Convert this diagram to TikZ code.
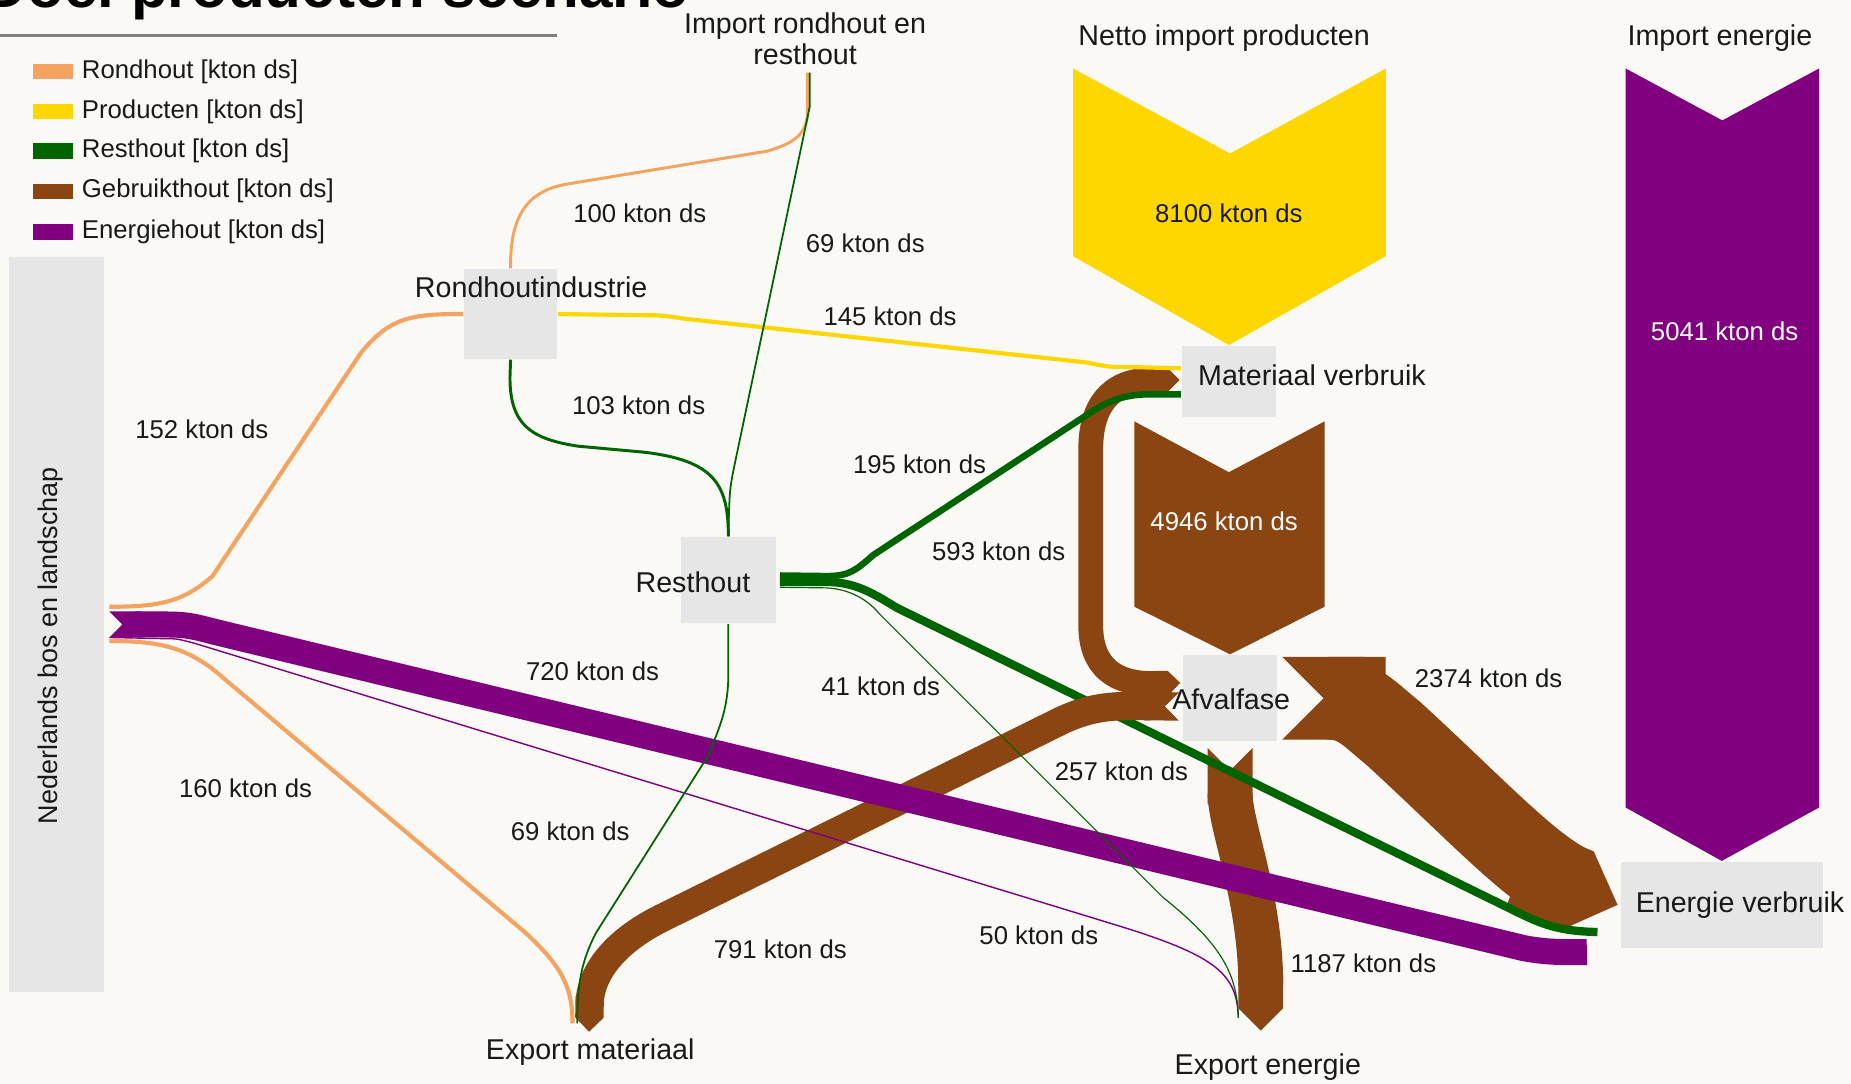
\documentclass[tikz,border=0pt]{standalone}
\usepackage{fontspec}
\setmainfont{Liberation Sans}
\usetikzlibrary{positioning,calc,arrows.meta}
\definecolor{bgc}{RGB}{250,249,245}
\definecolor{boxc}{RGB}{230,230,230}
\definecolor{rondc}{RGB}{244,164,96}
\definecolor{prodc}{RGB}{255,215,0}
\definecolor{restc}{RGB}{0,100,0}
\definecolor{gebrc}{RGB}{139,69,19}
\definecolor{energc}{RGB}{128,0,128}
\definecolor{rulec}{RGB}{128,128,128}

\begin{document}
\begin{tikzpicture}[x=0.01cm,y=-0.01cm,
		box/.style={fill=boxc,inner sep=0pt},
		nodetxt/.style={font=\fontsize{6.9}{7.4}\selectfont,inner sep=0pt,align=center,text=black!90},
		val/.style={font=\fontsize{6.2}{7}\selectfont,inner sep=0pt,text=black!90},
		swatch/.style={minimum width=3.4mm,minimum height=1.3mm,inner sep=0pt},
		rond/.style={draw=rondc},
		prod/.style={draw=prodc},
		resth/.style={draw=restc},
		gebr/.style={draw=gebrc},
		energ/.style={draw=energc}]
		\fill[bgc] (0,0) rectangle (1568,918);
		\useasboundingbox (0,0) rectangle (1568,918);
		
		\node[font=\fontsize{14.5}{16}\selectfont\bfseries,anchor=base east,inner sep=0pt] (title) at (585,6) {Doel producten scenario};
		\draw[rulec,line width=0.3mm] (0,30) -- (472,30);
		
		\node[swatch,fill=rondc] (lr) at (45,60.5) {};
		\node[val,right=0.6mm of lr] (lrt) {Rondhout [kton ds]};
		\node[swatch,fill=prodc] (lp) at (45,94.5) {};
		\node[val,right=0.6mm of lp] (lpt) {Producten [kton ds]};
		\node[swatch,fill=restc] (lrs) at (45,128) {};
		\node[val,right=0.6mm of lrs] (lrst) {Resthout [kton ds]};
		\node[swatch,fill=gebrc] (lg) at (45,162) {};
		\node[val,right=0.6mm of lg] (lgt) {Gebruikthout [kton ds]};
		\node[swatch,fill=energc] (le) at (45,196.5) {};
		\node[val,right=0.6mm of le] (let) {Energiehout [kton ds]};
		
		\node[box,minimum width=8mm,minimum height=62.2mm] (nbl) at (48,529) {};
		\node[box,minimum width=7.9mm,minimum height=7.6mm] (rhi) at (432.5,266) {};
		\node[box,minimum width=8mm,minimum height=7.3mm] (rest) at (617,491.5) {};
		\node[box,minimum width=8mm,minimum height=6mm] (mat) at (1041,323) {};
		\node[box,minimum width=7.9mm,minimum height=7.3mm] (afv) at (1042,591.5) {};
		\node[box,minimum width=17.1mm,minimum height=7.3mm] (ev) at (1458.5,766.5) {};
		\node[nodetxt] (expm) at (500,891) {Export materiaal};
		\node[nodetxt] (expe) at (1074,904) {Export energie};
		\node[nodetxt] (imp) at (682,33) {Import rondhout en\\resthout};
		\node[nodetxt] (nip) at (1037,32) {Netto import producten};
		\node[nodetxt] (ie) at (1457,32) {Import energie};
		
		% import arrows
		\fill[prodc] (909,58) -- (1042,130) -- (1174,58) -- (1174,217) -- (mat.north) -- (909,217) -- cycle;
		\fill[energc] (1377,58) -- (1459,102) -- (1541,58) -- (1541,684) -- (ev.north) -- (1377,684) -- cycle;
		\fill[gebrc] (961,357) -- (1041,400) -- (1122,357) -- (1122,514) -- (afv.north) -- (961,514) -- cycle;
		
		% gebruikthout (under)
		\draw[gebr,line width=3.8mm,{Triangle Cap[reversed]}-{Triangle Cap}] ($(afv.south)+(0,5)$) .. controls (1042,700) and (1068,760) .. ($(expe.center)+(-6,-31)$);
		\draw[gebr,line width=7mm,{Triangle Cap[reversed]}-{Triangle Cap}] ($(afv.east)+(4,0)$) -- (1125,591.5) .. controls (1150,591.5) and (1160,605) .. (1180,621) .. controls (1250,685) and (1300,740) .. (1335,753) -- ($(ev.west)+(-2,0)$);
		\draw[gebr,line width=2.1mm,{Triangle Cap}-{Triangle Cap}] ($(mat.west)+(-1,-1)$) -- (975,322) .. controls (940,322) and (924,345) .. (924,380) -- (924,530) .. controls (924,565) and (945,579) .. (975,579) -- ($(afv.west)+(-2,-13)$);
		
		% resthout
		\draw[resth,line width=0.25mm] (rhi.south) -- (432,320) .. controls (432,360) and (450,372) .. (490,378) -- (545,383) .. controls (605,390) and (617,410) .. (rest.north);
		\draw[resth,line width=0.55mm] ($(rest.east)+(3,-4)$) -- (700,488) .. controls (720,488) and (725,483) .. (740,470) -- (920,352) .. controls (940,338) and (955,334) .. (975,334) -- ($(mat.west)+(0,11)$);
		\draw[resth,line width=0.7mm] ($(rest.east)+(3,1.5)$) -- (700,493) .. controls (725,493) and (740,503) .. (760,515) -- (1290,775) .. controls (1305,782) and (1320,789) .. ($(ev.west)+(-19,23)$);
		
		% gebruikthout naar export
		\draw[gebr,line width=2.4mm,{Triangle Cap[reversed]}-{Triangle Cap}] ($(afv.west)+(-3,7)$) -- (960,598) .. controls (935,598) and (920,601) .. (900,610) -- (560,778) .. controls (520,798) and (500,825) .. ($(expm.center)+(-1,-17)$);
		
		% energiehout
		\draw[energ,line width=2.2mm,{Triangle Cap[reversed]}-] ($(nbl.east)+(4,0)$) -- (140,529) .. controls (160,529) and (165,531) .. (185,536) -- (1290,803) .. controls (1305,806) and (1320,807) .. ($(ev.west)+(-28,40)$);
		\draw[energ,line width=0.12mm] ($(nbl.east)+(4,11)$) -- (140,541) .. controls (150,541) .. (165,545) -- (950,785) .. controls (1030,810) and (1048,825) .. ($(expe.center)+(-25,-42)$);
		
		% dunne stromen
		\draw[resth,line width=0.1mm] ($(rest.east)+(3,6)$) -- (700,498) .. controls (720,499) and (735,508) .. (745,520) -- (985,760) .. controls (1035,800) and (1048,825) .. ($(expe.center)+(-25,-42)$);
		\draw[resth,line width=0.15mm] (rest.south) -- (617,570) .. controls (617,600) and (610,615) .. (600,640) -- (505,790) .. controls (492,815) and (489,835) .. ($(expm.center)+(-11,-24)$);
		\draw[rond,line width=0.35mm] ($(nbl.east)+(4,-15)$) .. controls (135,514) and (155,510) .. (180,488) -- (305,300) .. controls (330,268) and (350,266) .. (rhi.west);
		\draw[rond,line width=0.35mm] ($(nbl.east)+(4,14)$) .. controls (135,543) and (160,548) .. (190,575) -- (445,790) .. controls (475,818) and (485,835) .. ($(expm.center)+(-15,-24)$);
		\draw[rond,line width=0.25mm] ($(imp.south)+(2,6)$) -- (684,95) .. controls (684,115) and (670,122) .. (650,128) -- (480,156) .. controls (445,162) and (432,185) .. (rhi.north);
		\draw[prod,line width=0.35mm] (rhi.east) -- (545,267) .. controls (560,267) .. (580,270) -- (920,307) .. controls (940,311) .. (960,311) -- ($(mat.west)+(0,-11)$);
		\draw[resth,line width=0.15mm] ($(imp.south)+(4,6)$) -- (686,90) -- (622,395) .. controls (618,415) .. (rest.north);
		
		% names
		\node[nodetxt] (rhit) at ($(rhi.center)+(17.5,-23)$) {Rondhoutindustrie};
		\node[nodetxt] (restt) at ($(rest.center)+(-30,1.5)$) {Resthout};
		\node[nodetxt,anchor=west] (matt) at ($(mat.west)+(14,-5)$) {Materiaal verbruik};
		\node[nodetxt] (afvt) at ($(afv.center)+(1,0.5)$) {Afvalfase};
		\node[nodetxt] (evt) at ($(ev.center)+(15.5,0.5)$) {Energie verbruik};
		\node[nodetxt,rotate=90,font=\fontsize{6.5}{7}\selectfont] (nblt) at ($(nbl.center)+(-5,18)$) {Nederlands bos en landschap};
		
		% values
		\node[val] (v100) at (542,181) {100 kton ds};
		\node[val] (v69a) at (733,206) {69 kton ds};
		\node[val] (v145) at (754,268) {145 kton ds};
		\node[val] (v152) at (171,364) {152 kton ds};
		\node[val] (v103) at (541,343) {103 kton ds};
		\node[val] (v195) at (779,393) {195 kton ds};
		\node[val] (v593) at (846,467) {593 kton ds};
		\node[val] (v720) at (502,569) {720 kton ds};
		\node[val] (v41) at (746,581) {41 kton ds};
		\node[val] (v257) at (950,653) {257 kton ds};
		\node[val] (v2374) at (1261,575) {2374 kton ds};
		\node[val] (v160) at (208,668) {160 kton ds};
		\node[val] (v69b) at (483,704) {69 kton ds};
		\node[val] (v791) at (661,804) {791 kton ds};
		\node[val] (v50) at (880,792) {50 kton ds};
		\node[val] (v1187) at (1155,816) {1187 kton ds};
		\node[val] (v8100) at (1041,181) {8100 kton ds};
		\node[val,text=white] (v4946) at (1037,442) {4946 kton ds};
		\node[val,text=white] (v5041) at (1461,281) {5041 kton ds};
	\end{tikzpicture}
\end{document}
